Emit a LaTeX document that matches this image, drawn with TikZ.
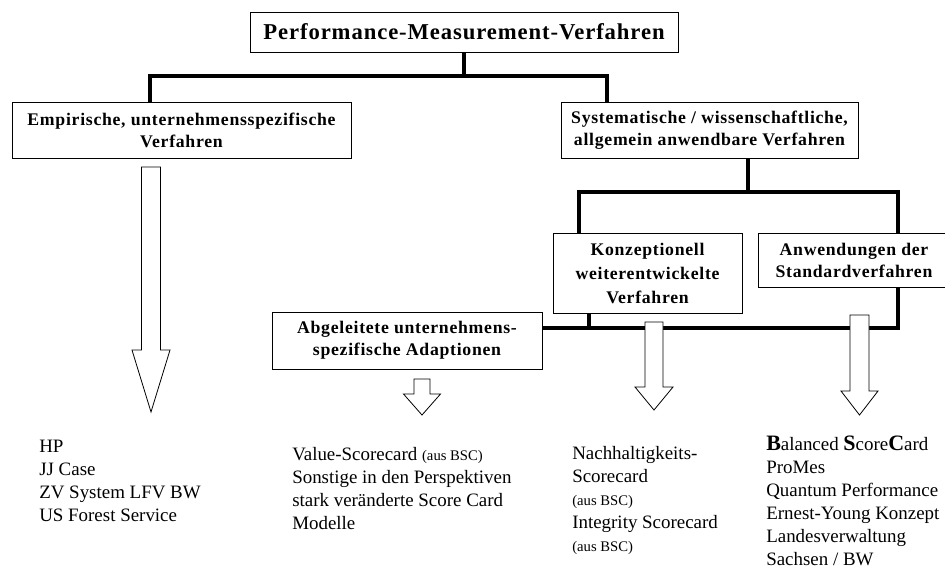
\documentclass[tikz,border=0pt]{standalone}
\usepackage{fontspec}
\setmainfont{Liberation Serif}
\newfontfamily\boxfamily[LetterSpace=4]{Liberation Serif}
\usetikzlibrary{positioning}

% hollow block arrow: x, top, neck, tip, shaft half width, head half width
\newcommand{\hollowarrow}[6]{%
  \draw[hollow] (#1-#5,#2) -- (#1+#5,#2) -- (#1+#5,#3) -- (#1+#6,#3)
    -- (#1,#4) -- (#1-#6,#3) -- (#1-#5,#3) -- cycle;}
\newcommand{\ausbsc}{{\fontsize{11}{13}\selectfont(aus BSC)}}
\newcommand{\initial}[1]{{\fontsize{16.5}{17}\selectfont\bfseries #1}}

\begin{document}
\begin{tikzpicture}[x=0.75pt, y=-0.75pt,
    box/.style={draw, line width=0.6pt, fill=white, align=center, inner sep=0pt,
      font=\boxfamily\fontsize{13.3}{16.5}\selectfont\bfseries},
    bar/.style={line width=3pt, line join=miter},
    stem/.style={line width=2.3pt},
    hollow/.style={draw, fill=white, line width=0.6pt, line join=miter},
    list/.style={anchor=base west, align=left, inner sep=0pt,
      font=\fontsize{14.2}{17.25}\selectfont}]

  \useasboundingbox (0,0) rectangle (945,569);

  % Boxes
  \node[box, minimum width=321pt, minimum height=30pt,
    font=\boxfamily\fontsize{17}{20}\selectfont\bfseries] (pmv) at (464,32)
    {Performance-Measurement-Verfahren};

  \node[box, minimum width=254.25pt, minimum height=42pt] (emp) at (181.5,130)
    {Empirische, unternehmensspezifische\\Verfahren};
  \node[box, minimum width=222.75pt, minimum height=42pt] (sys) at (709.5,130)
    {Systematische / wissenschaftliche,\\allgemein anwendbare Verfahren};

  \node[box, minimum width=141.75pt, minimum height=60pt,
    font=\boxfamily\fontsize{13.3}{18}\selectfont\bfseries] (konz) at (647.5,273)
    {Konzeptionell\\weiterentwickelte\\Verfahren};
  \node[box, minimum width=144pt, minimum height=40.5pt] (anw) at (854,260)
    {Anwendungen der\\Standardverfahren};
  \node[box, minimum width=202.5pt, minimum height=42.75pt] (abg) at (407,340.5)
    {Abgeleitete unternehmens-\\spezifische Adaptionen};

  % Tree lines
  \coordinate (t1) at (150,76);
  \coordinate (t2) at (607,76);
  \draw[stem] (pmv.south) -- (pmv.south |- t1);
  \draw[bar] (emp.north -| t1) -- (t1) -- (t2) -- (sys.north -| t2);

  \coordinate (s0) at (748,192);
  \coordinate (m1) at (579,192);
  \coordinate (m2) at (898,192);
  \draw[stem] (sys.south -| s0) -- (s0);
  \draw[bar] (konz.north -| m1) -- (m1) -- (m2) -- (anw.north -| m2);

  \coordinate (b1) at (589,328);
  \coordinate (b2) at (898,328);
  \draw[bar] (abg.east |- b1) -- (b2) -- (anw.south -| b2);
  \draw[stem] (konz.south -| b1) -- (b1);

  % Block arrows
  \hollowarrow{151}{167}{350}{412}{9.5}{19}
  \hollowarrow{422}{379}{394}{415}{8}{18.5}
  \hollowarrow{654}{322}{387}{410}{9}{19}
  \hollowarrow{859.5}{315}{391}{415}{9.5}{18.5}

  % Lists (placed at the baseline of their last line)
  \node[list] (lstemp) at (39,521)
    {HP\\JJ Case\\ZV System LFV BW\\US Forest Service};
  \node[list] (lstabg) at (292,529)
    {Value-Scorecard \ausbsc\\Sonstige in den Perspektiven\\stark veränderte Score Card\\Modelle};
  \node[list] (lstkonz) at (572,551)
    {Nachhaltigkeits-\\Scorecard\\\ausbsc\\Integrity Scorecard\\\ausbsc};
  \node[list] (lstanw) at (766,565)
    {\initial{B}alanced \initial{S}core\initial{C}ard\\ProMes\\Quantum Performance\\Ernest-Young Konzept\\Landesverwaltung\\Sachsen / BW};
\end{tikzpicture}
\end{document}
